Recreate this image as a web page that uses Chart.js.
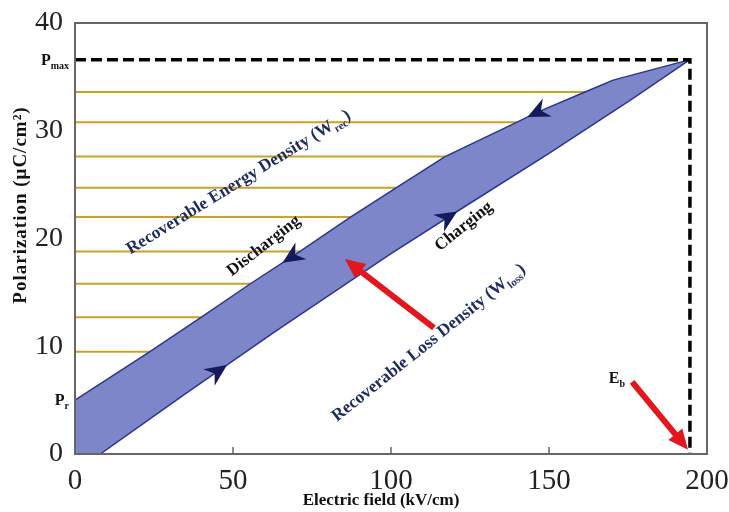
<!DOCTYPE html>
<html>
<head>
<meta charset="utf-8">
<script src="https://cdn.jsdelivr.net/npm/chart.js@4.4.1/dist/chart.umd.min.js"></script>
<style>
  body { margin: 0; background: #fff; }
  canvas { display: block; }
</style>
</head>
<body>
<canvas id="loopChart" width="729" height="512"></canvas>
<script>
// values (kV/cm, µC/cm²)
const dischargeField = [0, 23.7, 40.0, 55.5, 71.2, 87.3, 101.6, 117.1, 139.9, 146.2, 161.4, 170.3, 194.6];
const dischargePol   = [5.0, 9.5, 12.7, 15.8, 18.8, 22.0, 24.7, 27.6, 30.8, 31.7, 33.6, 34.7, 36.6];
const chargeField = [8, 35, 64, 100, 123, 150, 176, 194.6];
const chargePol   = [0, 5.6, 11.5, 18.6, 22.9, 27.9, 32.9, 36.6];
// horizontal hatch lines of the recoverable energy area
const energyLevels = [9.5, 12.7, 15.8, 18.8, 22.0, 24.7, 27.6, 30.8, 33.6];
const energyEnds   = [23.7, 40.0, 55.5, 71.2, 87.3, 101.6, 117.1, 139.9, 161.4];
const pMax = 36.6, pR = 5.0, eB = 194.6;
const xTicks = [0, 50, 100, 150, 200];
const yTicks = [0, 10, 20, 30, 40];

const serif = '"Liberation Serif", "Times New Roman", serif';

const toPts = (xs, ys) => xs.map((v, i) => ({x: v, y: ys[i]}));
const upper = toPts(dischargeField, dischargePol);
const lower = toPts(chargeField, chargePol);
// closed loop: discharge branch, charge branch back, corner at origin
const loop = upper.concat(lower.slice().reverse(), [{x: 0, y: 0}]);

const hatch = energyLevels.map((p, i) => ({
  type: 'scatter',
  data: [{x: 0, y: p}, {x: energyEnds[i], y: p}],
  showLine: true, pointRadius: 0,
  borderColor: '#c9a227', borderWidth: 2,
  order: 10
}));

// text and arrows drawn over the plot
const notes = [
  {parts: [{t: 'Recoverable Energy Density (W'}, {t: 'rec', sub: true}, {t: ')'}], at: [51.6, 25.3], angle: 31.7, color: '#1d2b5e', size: 17.5},
  {parts: [{t: 'Recoverable Loss Density (W'}, {t: 'loss', sub: true}, {t: ')'}], at: [111.7, 10.4], angle: 38.6, color: '#1d2b5e', size: 17.5},
  {parts: [{t: 'Discharging'}], at: [59.5, 19.4], angle: 38, color: '#111', size: 17},
  {parts: [{t: 'Charging'}], at: [122.8, 21.2], angle: 38.7, color: '#111', size: 17},
  {parts: [{t: 'E'}, {t: 'b', sub: true}], at: [171.5, 7.1], angle: 0, color: '#111', size: 16}
];
const redArrows = [
  {from: [113.6, 11.7], to: [85.4, 18.1]},
  {from: [176.3, 6.7], to: [194, 0.4]}
];
const chargeMarks = [46.8, 119.6];
const dischargeMarks = [67, 144.6];

function drawRich(ctx, parts, x, y, size, color, align, angleDeg, spacing) {
  ctx.save();
  ctx.translate(x, y);
  ctx.rotate(-(angleDeg || 0) * Math.PI / 180);
  ctx.fillStyle = color;
  ctx.textBaseline = 'alphabetic';
  if (spacing) ctx.letterSpacing = spacing + 'px';
  const fonts = parts.map(p => 'bold ' + (p.sub ? Math.round(size * 0.6) : size) + 'px ' + serif);
  let total = 0;
  const widths = parts.map((p, i) => {
    ctx.font = fonts[i];
    const w = ctx.measureText(p.t).width;
    total += w;
    return w;
  });
  let cx = align === 'right' ? -total : align === 'left' ? 0 : -total / 2;
  const base = size * 0.33;
  parts.forEach((p, i) => {
    ctx.font = fonts[i];
    ctx.fillText(p.t, cx, base + (p.sub ? size * 0.25 : 0));
    cx += widths[i];
  });
  ctx.restore();
}

// position and direction on a branch at a given field value (pixels)
function onCurve(xs, ys, xv, sx, sy) {
  let i = 0;
  while (i < xs.length - 2 && xs[i + 1] < xv) i++;
  const x0 = sx.getPixelForValue(xs[i]), y0 = sy.getPixelForValue(ys[i]);
  const x1 = sx.getPixelForValue(xs[i + 1]), y1 = sy.getPixelForValue(ys[i + 1]);
  const t = (xv - xs[i]) / (xs[i + 1] - xs[i]);
  return {x: x0 + (x1 - x0) * t, y: y0 + (y1 - y0) * t, a: Math.atan2(y1 - y0, x1 - x0)};
}

function stealth(ctx, p, ang) {
  ctx.save();
  ctx.translate(p.x, p.y);
  ctx.rotate(ang);
  ctx.fillStyle = '#151a5c';
  ctx.beginPath();
  ctx.moveTo(5, 0);
  ctx.lineTo(-17, -10);
  ctx.lineTo(-10, 0);
  ctx.lineTo(-17, 10);
  ctx.closePath();
  ctx.fill();
  ctx.restore();
}

const annotate = {
  id: 'annotate',
  afterDatasetsDraw(chart) {
    const {ctx, chartArea: a, scales: {x, y}} = chart;

    // frame and inner ticks
    ctx.save();
    ctx.strokeStyle = '#666';
    ctx.lineWidth = 2;
    ctx.strokeRect(a.left, a.top, a.right - a.left, a.bottom - a.top);
    ctx.lineWidth = 1.5;
    xTicks.slice(1, -1).forEach(v => {
      const px = x.getPixelForValue(v);
      ctx.beginPath();
      ctx.moveTo(px, a.bottom);
      ctx.lineTo(px, a.bottom - 7);
      ctx.stroke();
    });
    ctx.restore();

    // direction arrowheads
    chargeMarks.forEach(v => {
      const p = onCurve(chargeField, chargePol, v, x, y);
      stealth(ctx, p, p.a);
    });
    dischargeMarks.forEach(v => {
      const p = onCurve(dischargeField, dischargePol, v, x, y);
      stealth(ctx, p, p.a + Math.PI);
    });

    // red arrows
    redArrows.forEach(r => {
      const x0 = x.getPixelForValue(r.from[0]), y0 = y.getPixelForValue(r.from[1]);
      const x1 = x.getPixelForValue(r.to[0]), y1 = y.getPixelForValue(r.to[1]);
      const ang = Math.atan2(y1 - y0, x1 - x0);
      const len = Math.hypot(x1 - x0, y1 - y0);
      ctx.save();
      ctx.translate(x0, y0);
      ctx.rotate(ang);
      ctx.fillStyle = '#e3161d';
      ctx.strokeStyle = '#e3161d';
      ctx.lineWidth = 6;
      ctx.beginPath();
      ctx.moveTo(0, 0);
      ctx.lineTo(len - 16, 0);
      ctx.stroke();
      ctx.beginPath();
      ctx.moveTo(len, 0);
      ctx.lineTo(len - 20, -9);
      ctx.lineTo(len - 20, 9);
      ctx.closePath();
      ctx.fill();
      ctx.restore();
    });

    notes.forEach(n => {
      drawRich(ctx, n.parts, x.getPixelForValue(n.at[0]), y.getPixelForValue(n.at[1]),
        n.size, n.color, 'center', n.angle);
    });

    drawRich(ctx, [{t: 'P'}, {t: 'max', sub: true}], a.left - 6, y.getPixelForValue(pMax), 16, '#111', 'right', 0);
    drawRich(ctx, [{t: 'P'}, {t: 'r', sub: true}], a.left - 6, y.getPixelForValue(pR), 16, '#111', 'right', 0);

    // axis titles
    drawRich(ctx, [{t: 'Polarization (μC/cm²)'}], 20, 205, 19, '#111', 'center', 90, 1);
    drawRich(ctx, [{t: 'Electric field (kV/cm)'}], 381, 499, 17, '#111', 'center', 0);
  }
};

new Chart(document.getElementById('loopChart'), {
  type: 'scatter',
  data: {
    datasets: [
      {
        data: [{x: 0, y: pMax}, {x: eB, y: pMax}, {x: eB, y: 0}],
        showLine: true, pointRadius: 0,
        borderColor: '#000', borderWidth: 3.5, borderDash: [11, 5],
        order: 1
      },
      {
        data: upper, showLine: true, pointRadius: 0,
        borderColor: '#2a3590', borderWidth: 1.5, order: 2
      },
      {
        data: lower, showLine: true, pointRadius: 0,
        borderColor: '#2a3590', borderWidth: 1.5, order: 2
      },
      {
        data: loop, showLine: true, pointRadius: 0,
        borderWidth: 0, backgroundColor: '#7d86c8', fill: 'shape', order: 5
      },
      ...hatch
    ]
  },
  options: {
    responsive: false,
    animation: false,
    devicePixelRatio: 1,
    layout: {padding: {top: 23, right: 22, left: 0, bottom: 0}},
    plugins: {legend: {display: false}, tooltip: {enabled: false}},
    scales: {
      x: {
        type: 'linear', min: 0, max: 200,
        afterBuildTicks: s => { s.ticks = xTicks.map(v => ({value: v})); },
        afterFit: s => { s.height = 58; s.paddingLeft = 0; s.paddingRight = 0; },
        grid: {display: false, drawTicks: false},
        border: {display: false},
        ticks: {padding: 10, color: '#222', font: {family: serif, size: 29}, maxRotation: 0}
      },
      y: {
        type: 'linear', min: 0, max: 40,
        afterBuildTicks: s => { s.ticks = yTicks.map(v => ({value: v})); },
        afterFit: s => { s.width = 75; s.paddingTop = 0; s.paddingBottom = 0; },
        grid: {display: false, drawTicks: false},
        border: {display: false},
        ticks: {padding: 12, color: '#222', font: {family: serif, size: 28}}
      }
    }
  },
  plugins: [annotate]
});
</script>
</body>
</html>
